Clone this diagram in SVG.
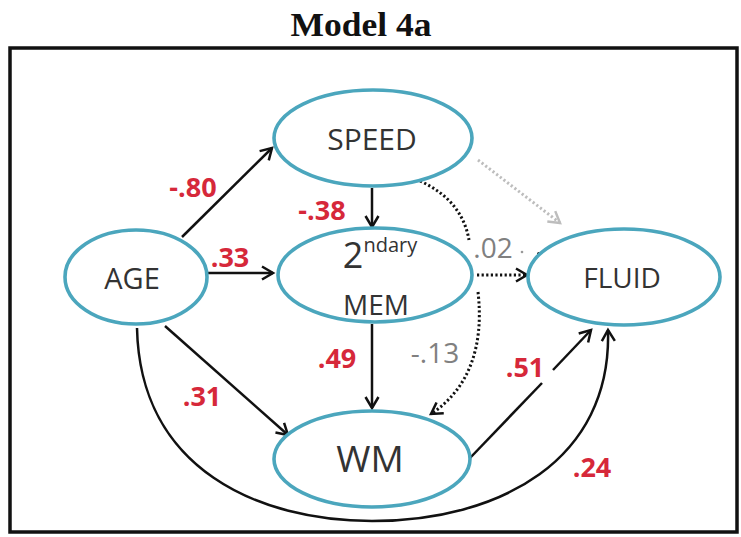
<svg xmlns="http://www.w3.org/2000/svg" width="741" height="537" viewBox="0 0 741 537">
<style>
.node ellipse{fill:#fff;stroke:#4ba6bd;stroke-width:3.6}
.lbl{font-family:"Open Sans","Liberation Sans",sans-serif;fill:#333;text-anchor:middle}
.red{font-family:"Open Sans","Liberation Sans",sans-serif;fill:#d6283a;font-weight:bold;font-size:27px;text-anchor:middle}
.gray{font-family:"Open Sans","Liberation Sans",sans-serif;fill:#808080;font-size:28px;text-anchor:middle}
.edge{fill:none;stroke:#111;stroke-width:2.5}
.dot{fill:none;stroke:#111;stroke-width:3;stroke-dasharray:2.2 2.4}
.gdot{fill:none;stroke:#bdbdbd;stroke-width:3;stroke-dasharray:2.2 2.4}
</style>
<defs>
<marker id="ah" markerUnits="userSpaceOnUse" markerWidth="18" markerHeight="18" refX="13" refY="8" orient="auto">
<path d="M2,1.5 L13,8 L2,14.5" fill="none" stroke="#111" stroke-width="2.5"/>
</marker>
<marker id="ahg" markerUnits="userSpaceOnUse" markerWidth="18" markerHeight="18" refX="13" refY="8" orient="auto">
<path d="M2,1.5 L13,8 L2,14.5" fill="none" stroke="#bdbdbd" stroke-width="2.5"/>
</marker>
</defs>
<rect width="741" height="537" fill="#fff"/>
<text x="361" y="36" font-family="Liberation Serif,serif" font-weight="bold" font-size="34" text-anchor="middle" fill="#111" textLength="141" lengthAdjust="spacingAndGlyphs">Model 4a</text>
<rect x="10" y="48" width="727" height="484" fill="none" stroke="#111" stroke-width="3.5"/>
<g id="connectors">
<line class="edge" x1="182" y1="237" x2="272" y2="148" marker-end="url(#ah)"/>
<line class="edge" x1="207" y1="273" x2="273" y2="273" marker-end="url(#ah)"/>
<line class="edge" x1="372" y1="188" x2="372" y2="227" marker-end="url(#ah)"/>
<line class="edge" x1="372" y1="324" x2="372" y2="408" marker-end="url(#ah)"/>
<line class="edge" x1="165" y1="326" x2="288" y2="435" marker-end="url(#ah)"/>
<line class="edge" x1="470" y1="458" x2="542" y2="383"/>
<line class="edge" x1="553" y1="370" x2="591" y2="330" marker-end="url(#ah)"/>
<path class="edge" d="M137,328 C140,470 260,521 372,521 C500,521 612,460 608,330" marker-end="url(#ah)"/>
<path class="dot" d="M420,181 Q462,200 469,240"/>
<line class="dot" x1="477" y1="275" x2="527" y2="275" marker-end="url(#ah)"/>
<path class="dot" d="M478,292 C484,345 470,388 431,414" marker-end="url(#ah)"/>
<line class="gdot" x1="478" y1="160" x2="560" y2="223" marker-end="url(#ahg)"/>
<circle cx="522" cy="252" r="1.3" fill="#999"/>
<circle cx="539" cy="254" r="2" fill="#111"/>
</g>
<g id="speed" class="node"><ellipse cx="373" cy="138" rx="99" ry="48"/><text class="lbl" x="372" y="150" font-size="30">SPEED</text></g>
<g id="age" class="node"><ellipse cx="136" cy="277" rx="71" ry="47"/><text class="lbl" x="132" y="289" font-size="29">AGE</text></g>
<g id="mem" class="node"><ellipse cx="375" cy="275" rx="97" ry="47"/><text class="lbl" x="380" y="268" font-size="36">2<tspan font-size="20" dy="-16">ndary</tspan></text><text class="lbl" x="376" y="315" font-size="28">MEM</text></g>
<g id="fluid" class="node"><ellipse cx="624" cy="277" rx="96" ry="48"/><text class="lbl" x="622" y="288" font-size="28">FLUID</text></g>
<g id="wm" class="node"><ellipse cx="372" cy="459" rx="98" ry="48"/><text class="lbl" x="370" y="472" font-size="37">WM</text></g>
<g id="labels">
<text class="red" x="193" y="197">-.80</text>
<text class="red" x="322" y="220">-.38</text>
<text class="red" x="230" y="267">.33</text>
<text class="red" x="337" y="368">.49</text>
<text class="red" x="202" y="406">.31</text>
<text class="red" x="525" y="377">.51</text>
<text class="red" x="592" y="477">.24</text>
<text class="gray" x="493" y="258">.02</text>
<text class="gray" x="435" y="363">-.13</text>
</g>
</svg>
